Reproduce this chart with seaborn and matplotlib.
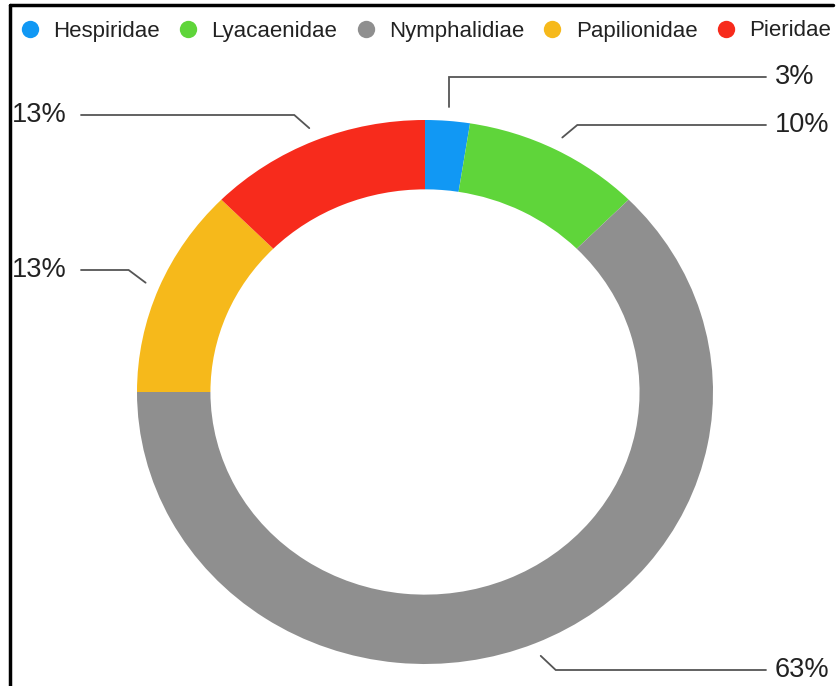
"""
Butterfly families share - donut chart
"""

import matplotlib
matplotlib.use('Agg')
import matplotlib.pyplot as plt
import numpy as np
import seaborn as sns
from matplotlib.lines import Line2D

families = ['Hespiridae', 'Lyacaenidae', 'Nymphalidiae', 'Papilionidae', 'Pieridae']
counts = [1, 4, 25, 5, 5]
pct_labels = ['3%', '10%', '63%', '13%', '13%']
colors = ['#1198f4', '#5fd53a', '#8f8f8f', '#f6b91b', '#f72b1c']

sns.set_theme(style='white')
plt.rcParams['font.family'] = ['Liberation Sans', 'DejaVu Sans']

W, H = 838, 686
fig = plt.figure(figsize=(W / 100, H / 100), dpi=100)

# axes box = outer ellipse of the donut (pixels)
cx, cy, rx, ry = 425, 392, 288, 272
ax = fig.add_axes([(cx - rx) / W, (H - cy - ry) / H, 2 * rx / W, 2 * ry / H])

wedges, _ = ax.pie(counts, colors=colors, startangle=90, counterclock=False,
                   radius=1, wedgeprops=dict(width=0.255, edgecolor='none'))
ax.set_aspect('auto')
ax.set_xlim(-1, 1)
ax.set_ylim(-1, 1)
ax.axis('off')

# leader lines: start at wedge middle, elbow, then horizontal to the label
px_x, px_y = 1 / rx, 1 / ry
label_y_px = [77, 125, 670, 270, 115]
elbow_dx_px = [0, 15, 15, -17, -15]
total = sum(counts)
cum = np.cumsum([0] + counts)
for i, w in enumerate(wedges):
    mid = 90 - 360 * (cum[i] + counts[i] / 2) / total
    sx = 1.05 * np.cos(np.radians(mid))
    sy = 1.05 * np.sin(np.radians(mid))
    ly = (cy - label_y_px[i]) * px_y
    ex = sx + elbow_dx_px[i] * px_x
    if ex >= 0:
        end_x = (766 - cx) * px_x
        tx = (775 - cx) * px_x
    else:
        end_x = (81 - cx) * px_x
        tx = (12 - cx) * px_x
    ax.plot([sx, ex, end_x], [sy, ly, ly], color='#555555', lw=1.3,
            clip_on=False, solid_joinstyle='miter')
    ax.text(tx, ly, pct_labels[i], ha='left', va='center', fontsize=19.5,
            color='#222222', clip_on=False)

handles = [Line2D([], [], marker='o', ls='none', markersize=12.5,
                  markerfacecolor=c, markeredgecolor='none') for c in colors]
fig.legend(handles, families, loc='center left', ncol=5,
           bbox_to_anchor=(20 / W, 1 - 31 / H), frameon=False, fontsize=16,
           handlelength=0.9, handletextpad=0.6, columnspacing=0.82,
           borderaxespad=0, borderpad=0, labelcolor='#222222')

# frame on left and top edges
fig.add_artist(Line2D([10 / W, 10 / W], [0, 1 - 5 / H], color='black', lw=2.5,
                      transform=fig.transFigure))
fig.add_artist(Line2D([10 / W, 833 / W], [1 - 5 / H, 1 - 5 / H], color='black',
                      lw=2.5, transform=fig.transFigure))

fig.savefig('out.png', dpi=100)
